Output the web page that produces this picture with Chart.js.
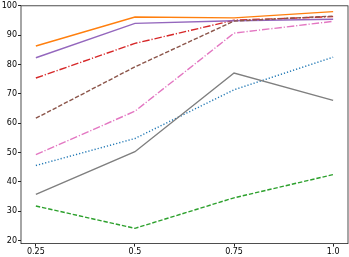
<!DOCTYPE html>
<html>
<head>
<meta charset="utf-8">
<script src="https://cdn.jsdelivr.net/npm/chart.js@4/dist/chart.umd.min.js"></script>
<style>
    html, body { margin: 0; padding: 0; background: #fff; }
    #wrap { width: 349px; height: 257px; }
</style>
</head>
<body>
<div id="wrap"><canvas id="myLineChart" width="349" height="257"></canvas></div>
<script>
const x_values = [0.25, 0.5, 0.75, 1.0];
const x_tick_labels = ['0.25', '0.5', '0.75', '1.0'];
const y_ticks = [20, 30, 40, 50, 60, 70, 80, 90, 100];

const blue_dotted = [45.6, 54.8, 71.4, 82.5];
const orange_solid = [86.3, 96.2, 95.9, 98.0];
const green_dashed = [31.8, 24.2, 34.6, 42.5];
const red_dashdot = [75.4, 87.2, 95.1, 96.3];
const purple_solid = [82.3, 94.0, 94.9, 95.4];
const brown_dashed = [61.7, 79.2, 94.8, 96.5];
const pink_dashdot = [49.3, 64.1, 90.7, 94.7];
const gray_solid = [35.8, 50.3, 77.1, 67.8];

const dotted = [1.2, 2.0];
const dashed = [4.4, 1.9];
const dashdot = [7.5, 1.9, 1.2, 1.9];

const series = [
    {data: blue_dotted, color: '#1f77b4', dash: dotted},
    {data: orange_solid, color: '#ff7f0e', dash: []},
    {data: green_dashed, color: '#2ca02c', dash: dashed},
    {data: red_dashdot, color: '#d62728', dash: dashdot},
    {data: purple_solid, color: '#9467bd', dash: []},
    {data: brown_dashed, color: '#8c564b', dash: dashed},
    {data: pink_dashdot, color: '#e377c2', dash: dashdot},
    {data: gray_solid, color: '#7f7f7f', dash: []},
];

const frame_plugin = {
    id: 'frame',
    afterDraw(chart) {
        const a = chart.chartArea;
        const ctx = chart.ctx;
        ctx.save();
        ctx.strokeStyle = '#222';
        ctx.lineWidth = 0.8;
        ctx.strokeRect(a.left, a.top, a.right - a.left, a.bottom - a.top);
        ctx.restore();
    }
};

const ctx = document.getElementById('myLineChart').getContext('2d');
new Chart(ctx, {
    type: 'line',
    data: {
        datasets: series.map((s, i) => ({
            data: x_values.map((x, j) => ({x: x, y: s.data[j]})),
            borderColor: s.color,
            borderWidth: 1.4,
            borderDash: s.dash,
            pointRadius: 0,
            fill: false,
            tension: 0,
            order: series.length - i
        }))
    },
    options: {
        responsive: false,
        animation: false,
        layout: {padding: {top: 3, right: 1, left: 0, bottom: 0}},
        plugins: {legend: {display: false}, tooltip: {enabled: false}},
        scales: {
            x: {
                type: 'linear',
                min: 0.2125,
                max: 1.0375,
                afterBuildTicks: scale => { scale.ticks = x_values.map(v => ({value: v})); },
                afterFit: scale => { scale.height = 13.4; },
                ticks: {
                    callback: (v, i) => x_tick_labels[i],
                    font: {family: 'DejaVu Sans', size: 8},
                    color: '#000',
                    padding: 1,
                    maxRotation: 0
                },
                grid: {drawOnChartArea: false, drawTicks: true, tickLength: 3, color: '#222'},
                border: {display: false}
            },
            y: {
                min: 19,
                max: 100,
                afterBuildTicks: scale => { scale.ticks = y_ticks.map(v => ({value: v})); },
                afterFit: scale => { scale.width = 21; },
                ticks: {
                    font: {family: 'DejaVu Sans', size: 8},
                    color: '#000',
                    padding: 1
                },
                grid: {drawOnChartArea: false, drawTicks: true, tickLength: 3, color: '#222'},
                border: {display: false}
            }
        }
    },
    plugins: [frame_plugin]
});
</script>
</body>
</html>
